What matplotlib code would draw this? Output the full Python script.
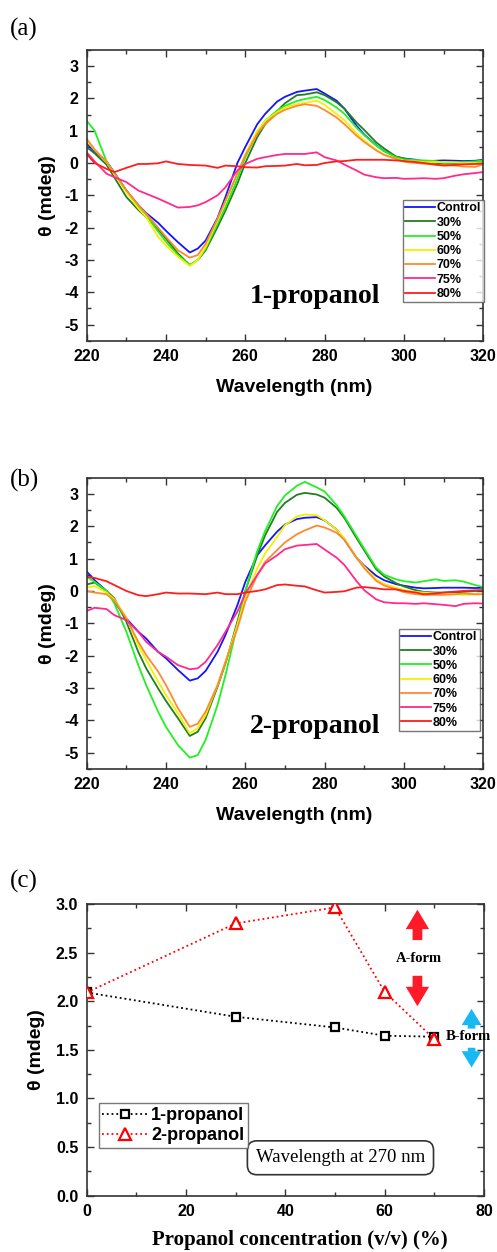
import numpy as np
import matplotlib
matplotlib.use("Agg")
import matplotlib.pyplot as plt
from matplotlib.ticker import MultipleLocator, FormatStrFormatter

plt.rcParams["axes.unicode_minus"] = False

# ---------------- data ----------------
wavelength = [220, 222, 225, 227, 230, 233, 235, 238, 240, 243, 246, 248, 250, 253, 255, 258, 260,
              263, 265, 268, 270, 273, 275, 278, 280, 283, 285, 288, 290, 293, 295, 298, 300,
              303, 305, 308, 310, 313, 315, 318, 320]

series_labels = ["Control", "30%", "50%", "60%", "70%", "75%", "80%"]

a_control = [0.60, 0.35, 0.05, -0.30, -0.85, -1.30, -1.55, -1.85, -2.10, -2.45, -2.77, -2.65, -2.40, -1.70, -1.05, 0.00, 0.50,
             1.20, 1.52, 1.90, 2.05, 2.20, 2.24, 2.29, 2.15, 1.93, 1.68, 1.16, 0.88, 0.55, 0.37, 0.19, 0.14,
             0.10, 0.05, 0.07, 0.08, 0.07, 0.06, 0.07, 0.10]
a_30 = [0.49, 0.30, -0.05, -0.45, -1.05, -1.45, -1.67, -2.05, -2.34, -2.80, -3.16, -3.00, -2.70, -1.98, -1.47, -0.64, 0.00,
        0.80, 1.20, 1.60, 1.85, 2.10, 2.12, 2.19, 2.10, 1.88, 1.68, 1.26, 1.02, 0.64, 0.45, 0.20, 0.14,
        0.06, 0.03, 0.00, -0.03, -0.02, -0.01, 0.00, 0.02]
a_50 = [1.31, 1.00, 0.05, -0.33, -0.85, -1.35, -1.62, -2.12, -2.44, -2.85, -3.16, -3.00, -2.65, -1.88, -1.36, -0.49, 0.18,
        0.95, 1.31, 1.62, 1.77, 1.92, 1.98, 2.05, 1.95, 1.72, 1.52, 1.10, 0.86, 0.54, 0.37, 0.18, 0.11,
        0.09, 0.08, 0.06, 0.00, 0.02, 0.03, 0.05, 0.08]
a_60 = [0.69, 0.40, 0.03, -0.35, -0.90, -1.40, -1.67, -2.29, -2.55, -2.90, -3.19, -3.00, -2.60, -1.77, -1.21, -0.33, 0.28,
        1.00, 1.31, 1.57, 1.72, 1.82, 1.86, 1.93, 1.80, 1.52, 1.32, 0.92, 0.70, 0.41, 0.26, 0.13, 0.07,
        0.05, 0.03, 0.03, 0.03, 0.02, 0.00, 0.00, -0.01]
a_70 = [0.75, 0.42, 0.03, -0.32, -0.85, -1.30, -1.57, -2.00, -2.29, -2.70, -2.93, -2.85, -2.50, -1.72, -1.16, -0.33, 0.23,
        0.90, 1.21, 1.52, 1.65, 1.77, 1.82, 1.77, 1.64, 1.41, 1.20, 0.85, 0.65, 0.39, 0.25, 0.13, 0.04,
        0.00, -0.02, -0.05, -0.06, -0.08, -0.11, -0.12, -0.04]
a_75 = [0.33, 0.05, -0.33, -0.44, -0.59, -0.85, -0.95, -1.10, -1.21, -1.38, -1.36, -1.31, -1.21, -1.00, -0.75, -0.23, -0.03,
        0.13, 0.18, 0.25, 0.28, 0.28, 0.28, 0.33, 0.18, 0.08, -0.05, -0.23, -0.36, -0.44, -0.47, -0.46, -0.49,
        -0.48, -0.47, -0.49, -0.47, -0.39, -0.35, -0.31, -0.28]
a_80 = [0.28, 0.00, -0.18, -0.28, -0.15, -0.03, -0.03, -0.01, 0.05, -0.03, -0.06, -0.07, -0.08, -0.15, -0.08, -0.10, -0.13,
        -0.14, -0.10, -0.09, -0.08, -0.03, -0.07, -0.06, 0.00, 0.05, 0.06, 0.10, 0.10, 0.10, 0.10, 0.08, 0.06,
        0.03, 0.00, -0.05, -0.08, -0.06, -0.04, -0.03, -0.02]

b_control = [0.60, 0.33, 0.00, -0.33, -0.85, -1.26, -1.47, -1.88, -2.08, -2.44, -2.77, -2.70, -2.47, -1.88, -1.36, -0.44, 0.28,
             1.10, 1.41, 1.83, 2.05, 2.22, 2.26, 2.28, 2.18, 1.90, 1.58, 1.03, 0.78, 0.47, 0.33, 0.21, 0.16,
             0.10, 0.08, 0.09, 0.10, 0.10, 0.10, 0.09, 0.10]
b_30 = [0.20, 0.26, 0.00, -0.23, -0.95, -1.88, -2.39, -3.01, -3.40, -3.93, -4.48, -4.35, -3.93, -2.96, -2.24, -0.95, 0.00,
        1.10, 1.72, 2.44, 2.72, 2.97, 3.03, 2.98, 2.88, 2.57, 2.25, 1.64, 1.25, 0.67, 0.45, 0.24, 0.14,
        0.02, -0.03, -0.05, -0.05, -0.04, -0.03, 0.00, 0.02]
b_50 = [0.44, 0.28, 0.00, -0.39, -1.26, -2.29, -2.91, -3.73, -4.20, -4.76, -5.15, -5.07, -4.60, -3.52, -2.60, -1.05, 0.00,
        1.23, 1.85, 2.62, 2.95, 3.25, 3.37, 3.20, 3.07, 2.65, 2.30, 1.70, 1.30, 0.72, 0.50, 0.36, 0.30,
        0.26, 0.30, 0.36, 0.31, 0.33, 0.29, 0.18, 0.12]
b_60 = [0.10, 0.15, -0.05, -0.26, -0.82, -1.67, -2.13, -2.80, -3.21, -3.78, -4.40, -4.24, -3.83, -2.91, -2.19, -1.05, -0.23,
        0.70, 1.16, 1.67, 2.03, 2.30, 2.36, 2.34, 2.18, 1.90, 1.62, 1.03, 0.75, 0.36, 0.22, 0.10, 0.03,
        -0.03, -0.05, -0.08, -0.10, -0.11, -0.12, -0.11, -0.10]
b_70 = [0.00, -0.05, -0.10, -0.30, -0.85, -1.57, -1.98, -2.49, -2.91, -3.62, -4.20, -4.10, -3.73, -2.91, -2.19, -1.16, -0.33,
        0.49, 0.90, 1.26, 1.50, 1.75, 1.87, 2.02, 1.96, 1.80, 1.58, 1.03, 0.70, 0.31, 0.17, 0.05, -0.04,
        -0.10, -0.12, -0.12, -0.12, -0.10, -0.08, -0.10, -0.10]
b_75 = [-0.62, -0.52, -0.56, -0.75, -0.90, -1.26, -1.57, -1.88, -2.03, -2.29, -2.42, -2.39, -2.19, -1.67, -1.26, -0.64, -0.08,
        0.49, 0.85, 1.10, 1.29, 1.40, 1.42, 1.45, 1.28, 1.03, 0.80, 0.31, 0.02, -0.26, -0.35, -0.38, -0.38,
        -0.40, -0.38, -0.41, -0.43, -0.47, -0.40, -0.38, -0.39]
b_80 = [0.44, 0.40, 0.30, 0.18, 0.00, -0.13, -0.16, -0.10, -0.05, -0.08, -0.08, -0.09, -0.10, -0.05, -0.10, -0.10, -0.05,
        0.00, 0.05, 0.18, 0.20, 0.16, 0.14, 0.02, -0.05, -0.03, -0.01, 0.10, 0.12, 0.08, 0.05, 0.05, 0.00,
        -0.05, -0.10, -0.08, -0.05, -0.02, 0.00, 0.02, 0.02]

conc = [0, 30, 50, 60, 70]
theta_1prop = [2.09, 1.84, 1.73, 1.645, 1.635]
theta_2prop = [2.09, 2.80, 2.965, 2.095, 1.61]

colors = ["#1414ff", "#1f7f1f", "#22f022", "#f2f200", "#ff8a2e", "#ff2a8c", "#ff1e1e"]

SANS = ["Liberation Sans", "DejaVu Sans"]
SERIF = ["Liberation Serif", "DejaVu Serif"]
FRAME = "#333333"

fig = plt.figure(figsize=(4.97, 12.52), dpi=100)


def style_axes(ax):
    for s in ax.spines.values():
        s.set_color(FRAME)
        s.set_linewidth(1.2)
    ax.tick_params(which="both", direction="in", top=True, right=True, color=FRAME, width=1.0)
    ax.tick_params(which="major", length=5, labelsize=11.5, pad=6)
    ax.tick_params(which="minor", length=3)
    for lab in ax.get_xticklabels() + ax.get_yticklabels():
        lab.set_fontfamily(SANS)
        lab.set_fontweight("bold")


def spectra_panel(rect, data, title, title_y, leg_box):
    ax = fig.add_axes(rect)
    for vals, lab, c in zip(data, series_labels, colors):
        ax.plot(wavelength, vals, color=c, lw=1.3, label=lab)
    ax.set_xlim(220, 320)
    ax.set_ylim(-5.5, 3.5)
    ax.xaxis.set_major_locator(MultipleLocator(20))
    ax.xaxis.set_minor_locator(MultipleLocator(10))
    ax.yaxis.set_major_locator(MultipleLocator(1))
    ax.yaxis.set_minor_locator(MultipleLocator(0.5))
    style_axes(ax)
    ax.set_xlabel("Wavelength (nm)", fontfamily=SANS, fontweight="bold", fontsize=14)
    ax.xaxis.set_label_coords(0.523, -0.132)
    ax.set_ylabel("θ (mdeg)", fontfamily=SANS, fontweight="bold", fontsize=14, labelpad=6)
    ax.text(277.6, title_y, title, fontfamily=SERIF, fontweight="bold", fontsize=20,
            ha="center", va="center")
    leg = ax.legend(loc="upper left", bbox_to_anchor=leg_box, frameon=True, fancybox=False,
                    prop={"family": SANS, "weight": "bold", "size": 9},
                    handlelength=2.4, handletextpad=0.12, labelspacing=0.18, borderpad=0.2,
                    borderaxespad=0.0)
    leg.get_frame().set_edgecolor("#555555")
    leg.get_frame().set_linewidth(1.0)
    return ax


ax_a = spectra_panel([0.1744, 0.7279, 0.798, 0.2322],
                     [a_control, a_30, a_50, a_60, a_70, a_75, a_80], "1-propanol", -4.14,
                     (0.797, 0.484))
ax_b = spectra_panel([0.1744, 0.3858, 0.798, 0.2327],
                     [b_control, b_30, b_50, b_60, b_70, b_75, b_80], "2-propanol", -4.18,
                     (0.787, 0.481))

# ---------------- panel (c) ----------------
ax_c = fig.add_axes([0.1744, 0.04497, 0.7994, 0.2330])
ax_c.plot(conc, theta_1prop, ls=":", color="black", lw=1.3, marker="s", ms=6,
          mfc="white", mec="black", mew=1.6, label="1-propanol", zorder=3)
ax_c.plot(conc, theta_2prop, ls=":", color="red", lw=1.3, marker="^", ms=9,
          mfc="white", mec="red", mew=1.6, label="2-propanol", zorder=4)
ax_c.set_xlim(0, 80)
ax_c.set_ylim(0, 3.0)
ax_c.xaxis.set_major_locator(MultipleLocator(20))
ax_c.xaxis.set_minor_locator(MultipleLocator(10))
ax_c.yaxis.set_major_locator(MultipleLocator(0.5))
ax_c.yaxis.set_minor_locator(MultipleLocator(0.25))
ax_c.yaxis.set_major_formatter(FormatStrFormatter("%.1f"))
style_axes(ax_c)
ax_c.set_xlabel("Propanol concentration (v/v) (%)", fontfamily=SERIF, fontweight="bold",
                fontsize=15)
ax_c.xaxis.set_label_coords(0.537, -0.118)
ax_c.set_ylabel("θ (mdeg)", fontfamily=SANS, fontweight="bold", fontsize=14, labelpad=8)

legc = ax_c.legend(loc="upper left", bbox_to_anchor=(0.03, 0.317), frameon=True, fancybox=False,
                   prop={"family": SANS, "weight": "bold", "size": 13},
                   handlelength=2.5, handletextpad=0.2, labelspacing=0.2, borderpad=0.2,
                   borderaxespad=0.0)
legc.get_frame().set_edgecolor("#555555")
legc.get_frame().set_linewidth(1.0)

ax_c.text(51.1, 0.39, "Wavelength at 270 nm", fontfamily=SERIF, fontsize=13.5, ha="center", va="center",
          bbox=dict(boxstyle="round,pad=0.45,rounding_size=0.5", fc="white", ec="#333333", lw=1.2))

# A-form / B-form arrows
red_kw = dict(arrowstyle="simple,head_width=1.2,head_length=1.0,tail_width=0.5",
              mutation_scale=14, color="#ff1a2a", lw=0)
blue_kw = dict(arrowstyle="simple,head_width=1.1,head_length=0.9,tail_width=0.42",
               mutation_scale=13, color="#18b8f0", lw=0)
ax_c.annotate("", xy=(66.6, 2.97), xytext=(66.6, 2.60), arrowprops=red_kw)
ax_c.annotate("", xy=(66.6, 1.92), xytext=(66.6, 2.29), arrowprops=red_kw)
ax_c.text(66.8, 2.44, "A-form", fontfamily=SERIF, fontweight="bold", fontsize=10.5,
          ha="center", va="center")
ax_c.annotate("", xy=(77.5, 1.95), xytext=(77.5, 1.69), arrowprops=blue_kw, annotation_clip=False)
ax_c.annotate("", xy=(77.5, 1.29), xytext=(77.5, 1.55), arrowprops=blue_kw, annotation_clip=False)
ax_c.text(72.3, 1.64, "B-form", fontfamily=SERIF, fontweight="bold", fontsize=10.5,
          ha="left", va="center", clip_on=False)

# panel letters
fig.text(10 / 497, 1 - 29 / 1252, "(a)", fontfamily=SERIF, fontsize=18, va="center", ha="left")
fig.text(10 / 497, 1 - 480 / 1252, "(b)", fontfamily=SERIF, fontsize=18, va="center", ha="left")
fig.text(10 / 497, 1 - 881 / 1252, "(c)", fontfamily=SERIF, fontsize=18, va="center", ha="left")

fig.savefig("out.png", dpi=100, facecolor="white")
